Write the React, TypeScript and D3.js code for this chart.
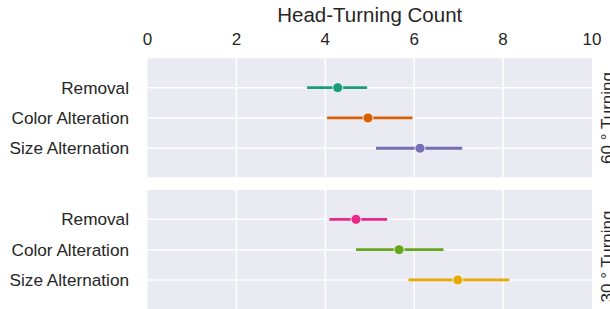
import React from "react";
import * as d3 from "d3";

const xTicks = [0, 2, 4, 6, 8, 10];
const categories = ["Removal", "Color Alteration", "Size Alternation"];
const panelLabels = ["60 ° Turning", "30 ° Turning"];
const means60 = [4.28, 4.96, 6.13];
const lows60 = [3.59, 4.04, 5.14];
const highs60 = [4.94, 5.96, 7.08];
const means30 = [4.69, 5.66, 6.98];
const lows30 = [4.09, 4.69, 5.87];
const highs30 = [5.39, 6.66, 8.14];
const colors60 = ["#1b9e77", "#d95f02", "#7570b3"];
const colors30 = ["#e7298a", "#66a61e", "#e6ab02"];

const W = 610;
const H = 309;
const FONT = "Liberation Sans, Arial, sans-serif";

export default function App() {
  const x = d3.scaleLinear().domain([0, 10]).range([147.5, 592]);
  const panels = [
    { top: 58.3, bottom: 177.3, labelY: 118, means: means60, lows: lows60, highs: highs60, colors: colors60, label: panelLabels[0] },
    { top: 190, bottom: 320, labelY: 256.5, means: means30, lows: lows30, highs: highs30, colors: colors30, label: panelLabels[1] },
  ];
  return (
    <svg width={W} height={H} style={{ position: "absolute", left: 0, top: 0 }} fontFamily={FONT}>
      <rect width={W} height={H} fill="white" />
      <text x={(x(0) + x(10)) / 2} y={21.7} textAnchor="middle" fontSize={20.5} fill="#262626">
        Head-Turning Count
      </text>
      {xTicks.map((t) => (
        <text key={t} x={x(t)} y={45} textAnchor="middle" fontSize={17} fill="#262626">
          {t}
        </text>
      ))}
      {panels.map((p, pi) => {
        const y = d3.scaleLinear().domain([-0.97, 2.96]).range([p.top, p.top + 119]);
        return (
          <g key={pi}>
            <rect x={x(0)} y={p.top} width={x(10) - x(0)} height={p.bottom - p.top} fill="#eaeaf2" />
            {xTicks.slice(1, -1).map((t) => (
              <line key={t} x1={x(t)} x2={x(t)} y1={p.top} y2={p.bottom} stroke="white" strokeWidth={1.5} />
            ))}
            {categories.map((c, i) => (
              <line key={c} x1={x(0)} x2={x(10)} y1={y(i)} y2={y(i)} stroke="white" strokeWidth={1.5} />
            ))}
            {categories.map((c, i) => (
              <text key={"l" + c} x={129} y={y(i)} textAnchor="end" dominantBaseline="central" fontSize={17.2} fill="#262626">
                {c}
              </text>
            ))}
            {categories.map((c, i) => (
              <g key={"d" + c}>
                <line x1={x(p.lows[i])} x2={x(p.highs[i])} y1={y(i)} y2={y(i)} stroke={p.colors[i]} strokeWidth={2.8} />
                <circle cx={x(p.means[i])} cy={y(i)} r={5} fill={p.colors[i]} stroke="white" strokeWidth={0.8} />
              </g>
            ))}
            <text
              transform={`translate(612.5, ${p.labelY}) rotate(-90)`}
              textAnchor="middle"
              fontSize={17}
              fill="#262626"
            >
              {p.label}
            </text>
          </g>
        );
      })}
    </svg>
  );
}
